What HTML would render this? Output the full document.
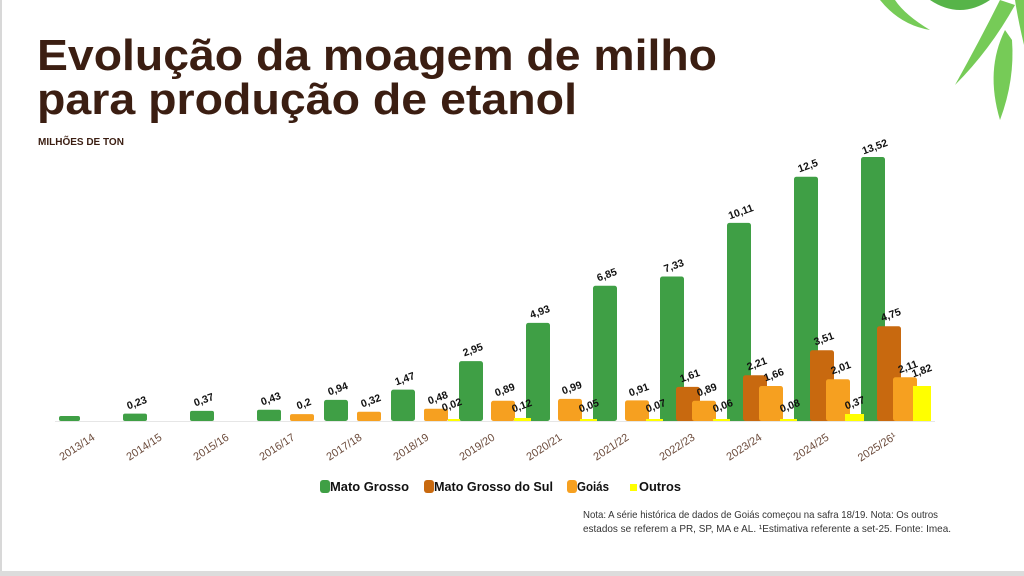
<!DOCTYPE html>
<html><head><meta charset="utf-8"><style>
html,body{margin:0;padding:0;background:#fff;}
svg{display:block;}
text{font-family:"Liberation Sans",Arial,sans-serif;}
.v{font-size:10.5px;font-weight:bold;fill:#111;text-anchor:middle;}
.ax{font-size:11px;fill:#6b4a3a;text-anchor:middle;}
.lg{font-size:12.5px;font-weight:bold;fill:#111;}
.nt{font-size:10.5px;fill:#333;}
</style></head><body>
<svg width="1024" height="576" viewBox="0 0 1024 576" xmlns="http://www.w3.org/2000/svg">
<rect x="0" y="0" width="1024" height="576" fill="#fff"/>
<rect x="0" y="0" width="2" height="576" fill="#d8d8d8"/>
<rect x="0" y="571" width="1024" height="5" fill="#dcdcdc"/>
<!-- leaves -->
<g fill="#5fc23a" opacity="0.85">
<path d="M880 0 Q900 25 930 30 Q905 15 895 0Z"/>
<path d="M930 0 Q960 20 990 0Z" fill="#3aa82a"/>
<path d="M1000 0 Q980 40 955 85 Q990 50 1015 5Z"/>
<path d="M1005 30 Q985 70 1000 120 Q1015 80 1012 40Z"/>
<path d="M1015 0 L1024 0 L1024 45 Q1018 20 1015 0Z"/>
</g>
<text x="37" y="70" font-size="44" font-weight="bold" fill="#3b1e12" textLength="680" lengthAdjust="spacingAndGlyphs">Evolução da moagem de milho</text>
<text x="37" y="114" font-size="44" font-weight="bold" fill="#3b1e12" textLength="540" lengthAdjust="spacingAndGlyphs">para produção de etanol</text>
<text x="38" y="145" font-size="10" font-weight="bold" fill="#3b1e12">MILHÕES DE TON</text>
<line x1="55" y1="421.5" x2="935" y2="421.5" stroke="#e6e6e6" stroke-width="1"/>
<!-- green -->
<g fill="#3f9f45">
<rect x="59" y="416" width="21" height="5" rx="2"/>
<rect x="123" y="413.6" width="24" height="7.4" rx="2"/>
<rect x="190" y="410.9" width="24" height="10.1" rx="2"/>
<rect x="257" y="409.7" width="24" height="11.3" rx="2"/>
<rect x="324" y="399.9" width="24" height="21.1" rx="2.5"/>
<rect x="391" y="389.6" width="24" height="31.4" rx="2.5"/>
<rect x="459" y="361.1" width="24" height="59.9" rx="2.5"/>
<rect x="526" y="322.9" width="24" height="98.1" rx="2.5"/>
<rect x="593" y="285.8" width="24" height="135.2" rx="2.5"/>
<rect x="660" y="276.5" width="24" height="144.5" rx="2.5"/>
<rect x="727" y="222.9" width="24" height="198.1" rx="2.5"/>
<rect x="794" y="176.7" width="24" height="244.3" rx="2.5"/>
<rect x="861" y="157" width="24" height="264" rx="2.5"/>
</g>
<!-- brown -->
<g fill="#c8690f">
<rect x="676" y="386.9" width="24" height="34.1" rx="2.5"/>
<rect x="743" y="375.3" width="24" height="45.7" rx="2.5"/>
<rect x="810" y="350.3" width="24" height="70.7" rx="2.5"/>
<rect x="877" y="326.3" width="24" height="94.7" rx="2.5"/>
</g>
<!-- orange -->
<g fill="#f6a020">
<rect x="290" y="414.1" width="24" height="6.9" rx="2"/>
<rect x="357" y="411.8" width="24" height="9.2" rx="2"/>
<rect x="424" y="408.7" width="24" height="12.3" rx="2"/>
<rect x="491" y="400.8" width="24" height="20.2" rx="2.5"/>
<rect x="558" y="398.9" width="24" height="22.1" rx="2.5"/>
<rect x="625" y="400.4" width="24" height="20.6" rx="2.5"/>
<rect x="692" y="400.8" width="24" height="20.2" rx="2.5"/>
<rect x="759" y="386" width="24" height="35" rx="2.5"/>
<rect x="826" y="379.2" width="24" height="41.8" rx="2.5"/>
<rect x="893" y="377.3" width="24" height="43.7" rx="2.5"/>
</g>
<!-- yellow -->
<g fill="#ffff00">
<rect x="448" y="419" width="12" height="2"/>
<rect x="514" y="418" width="17" height="3"/>
<rect x="580" y="419" width="17" height="2"/>
<rect x="646" y="419" width="17" height="2"/>
<rect x="713" y="419" width="17" height="2"/>
<rect x="780" y="419" width="17" height="2"/>
<rect x="845" y="414" width="19" height="7"/>
<rect x="913" y="386" width="18" height="35"/>
</g>
<!-- value labels -->
<g class="v">
<text transform="translate(138,406) rotate(-20)">0,23</text>
<text transform="translate(205,403) rotate(-20)">0,37</text>
<text transform="translate(272,402) rotate(-20)">0,43</text>
<text transform="translate(339,392) rotate(-20)">0,94</text>
<text transform="translate(406,382) rotate(-20)">1,47</text>
<text transform="translate(474,353) rotate(-20)">2,95</text>
<text transform="translate(541,315) rotate(-20)">4,93</text>
<text transform="translate(608,278) rotate(-20)">6,85</text>
<text transform="translate(675,269) rotate(-20)">7,33</text>
<text transform="translate(742,215) rotate(-20)">10,11</text>
<text transform="translate(809,169) rotate(-20)">12,5</text>
<text transform="translate(876,150) rotate(-20)">13,52</text>
<text transform="translate(691,379) rotate(-20)">1,61</text>
<text transform="translate(758,367) rotate(-20)">2,21</text>
<text transform="translate(825,342) rotate(-20)">3,51</text>
<text transform="translate(892,318) rotate(-20)">4,75</text>
<text transform="translate(305,407) rotate(-20)">0,2</text>
<text transform="translate(372,404) rotate(-20)">0,32</text>
<text transform="translate(439,401) rotate(-20)">0,48</text>
<text transform="translate(506,393) rotate(-20)">0,89</text>
<text transform="translate(573,391) rotate(-20)">0,99</text>
<text transform="translate(640,393) rotate(-20)">0,91</text>
<text transform="translate(708,393) rotate(-20)">0,89</text>
<text transform="translate(775,378) rotate(-20)">1,66</text>
<text transform="translate(842,371) rotate(-20)">2,01</text>
<text transform="translate(909,370) rotate(-20)">2,11</text>
<text transform="translate(453,408) rotate(-20)">0,02</text>
<text transform="translate(523,409) rotate(-20)">0,12</text>
<text transform="translate(590,409) rotate(-20)">0,05</text>
<text transform="translate(657,409) rotate(-20)">0,07</text>
<text transform="translate(724,409) rotate(-20)">0,06</text>
<text transform="translate(791,409) rotate(-20)">0,08</text>
<text transform="translate(856,406) rotate(-20)">0,37</text>
<text transform="translate(923,374) rotate(-20)">1,82</text>
</g>
<!-- axis labels -->
<g class="ax">
<text transform="translate(79,450) rotate(-33)">2013/14</text>
<text transform="translate(146,450) rotate(-33)">2014/15</text>
<text transform="translate(213,450) rotate(-33)">2015/16</text>
<text transform="translate(279,450) rotate(-33)">2016/17</text>
<text transform="translate(346,450) rotate(-33)">2017/18</text>
<text transform="translate(413,450) rotate(-33)">2018/19</text>
<text transform="translate(479,450) rotate(-33)">2019/20</text>
<text transform="translate(546,450) rotate(-33)">2020/21</text>
<text transform="translate(613,450) rotate(-33)">2021/22</text>
<text transform="translate(679,450) rotate(-33)">2022/23</text>
<text transform="translate(746,450) rotate(-33)">2023/24</text>
<text transform="translate(813,450) rotate(-33)">2024/25</text>
<text transform="translate(879,450) rotate(-33)">2025/26¹</text>
</g>
<!-- legend -->
<rect x="320" y="480" width="10" height="13" rx="3" fill="#3f9f45"/>
<text class="lg" x="330" y="491" textLength="79" lengthAdjust="spacingAndGlyphs">Mato Grosso</text>
<rect x="424" y="480" width="10" height="13" rx="3" fill="#c8690f"/>
<text class="lg" x="434" y="491" textLength="119" lengthAdjust="spacingAndGlyphs">Mato Grosso do Sul</text>
<rect x="567" y="480" width="10" height="13" rx="3" fill="#f6a020"/>
<text class="lg" x="577" y="491" textLength="32" lengthAdjust="spacingAndGlyphs">Goiás</text>
<rect x="630" y="484" width="7" height="7" fill="#ffff00"/>
<text class="lg" x="639" y="491" textLength="42" lengthAdjust="spacingAndGlyphs">Outros</text>
<!-- note -->
<text class="nt" x="583" y="518" textLength="355" lengthAdjust="spacingAndGlyphs">Nota: A série histórica de dados de Goiás começou na safra 18/19. Nota: Os outros</text>
<text class="nt" x="583" y="532" textLength="368" lengthAdjust="spacingAndGlyphs">estados se referem a PR, SP, MA e AL. ¹Estimativa referente a set-25. Fonte: Imea.</text>
</svg>
</body></html>
